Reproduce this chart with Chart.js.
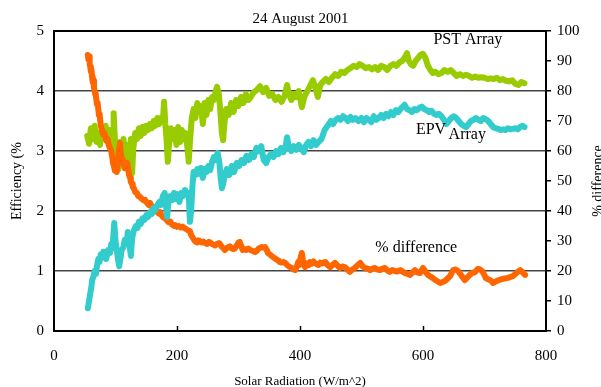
<!DOCTYPE html>
<html>
<head>
<meta charset="utf-8">
<script src="https://cdn.jsdelivr.net/npm/chart.js@4.4.1/dist/chart.umd.min.js"></script>
<style>
  html, body { margin: 0; padding: 0; background: #fff; }
  #wrap { width: 601px; height: 387px; }
</style>
</head>
<body>
<div id="wrap"><canvas id="effChart" width="601" height="387"></canvas></div>
<script>
// Chart text
const chartTitle = "24 August 2001";
const xTitle = "Solar Radiation (W/m^2)";
const yLeftTitle = "Efficiency (%";
const yRightTitle = "% difference";
const seriesNames = ["PST Array", "EPV Array", "% difference"];
const xTicks = [0, 200, 400, 600, 800];

// PST array efficiency (%) against solar radiation (W/m^2)
const pstPoints = [
  [54,3.25],[57,3.12],[60,3.38],[63,3.2],[66,3.42],[69,3.15],[72,3.3],[75,3.1],[78,3.38],[81,3.22],
  [84,3.42],[87,3.15],[90,3.35],[93,3.1],[96,3.3],[97,3.63],[99,3.2],[101,2.72],[103,3.0],[105,2.7],
  [107,3.15],[110,2.8],[113,3.2],[116,2.75],[119,3.1],[122,2.9],[125,3.2],[127,2.63],[129,3.05],[132,3.3],
  [135,3.2],[138,3.38],[141,3.25],[144,3.4],[147,3.3],[150,3.42],[153,3.35],[156,3.45],[159,3.38],[162,3.5],
  [165,3.42],[168,3.55],[171,3.45],[174,3.55],[177,3.5],[179,3.82],[181,3.45],[183,3.2],[185,2.82],[187,3.1],
  [190,3.38],[193,3.2],[196,3.35],[199,3.1],[202,3.4],[205,3.15],[208,3.35],[211,3.2],[214,3.3],[217,3.05],
  [219,2.82],[221,3.15],[224,3.55],[227,3.7],[230,3.55],[233,3.8],[236,3.65],[239,3.75],[242,3.45],[245,3.8],
  [248,3.6],[251,3.85],[254,3.7],[257,3.9],[260,3.85],[263,4.0],[265,4.07],[268,3.95],[271,3.6],[273,3.3],
  [275,3.18],[277,3.45],[280,3.7],[284,3.6],[288,3.8],[292,3.65],[296,3.85],[300,3.75],[304,3.9],[308,3.8],
  [312,3.95],[316,3.85],[320,3.9],[325,3.98],[330,4.02],[335,4.08],[340,3.98],[345,4.05],[350,3.92],[355,3.95],
  [360,3.85],[365,3.9],[370,3.82],[375,3.92],[379,4.1],[382,3.95],[386,3.85],[390,3.95],[394,3.9],[398,4.0],
  [403,3.73],[407,3.9],[412,4.0],[417,4.1],[421,4.18],[425,4.05],[429,3.9],[433,4.1],[437,4.15],[442,4.2],
  [447,4.15],[452,4.22],[457,4.28],[462,4.25],[467,4.32],[472,4.3],[477,4.35],[482,4.38],[487,4.42],[492,4.4],
  [497,4.45],[502,4.42],[507,4.38],[512,4.4],[517,4.36],[522,4.4],[527,4.35],[532,4.42],[537,4.4],[542,4.35],
  [547,4.42],[552,4.45],[557,4.42],[562,4.48],[566,4.5],[570,4.55],[574,4.63],[577,4.5],[580,4.45],[584,4.42],
  [588,4.5],[592,4.55],[596,4.6],[600,4.62],[604,4.55],[608,4.42],[612,4.35],[616,4.3],[620,4.32],[625,4.28],
  [630,4.3],[635,4.35],[640,4.32],[645,4.35],[650,4.3],[655,4.25],[660,4.28],[665,4.25],[670,4.27],[675,4.25],
  [680,4.22],[685,4.24],[690,4.22],[695,4.23],[700,4.22],[705,4.2],[710,4.21],[715,4.2],[720,4.22],[725,4.18],
  [730,4.2],[735,4.17],[740,4.16],[745,4.18],[750,4.12],[755,4.1],[760,4.15],[765,4.13]
];

// EPV array efficiency (%)
const epvPoints = [
  [55,0.38],[57,0.5],[59,0.63],[61,0.75],[62,0.85],[64,0.9],[66,1.0],[68,0.95],[70,1.1],[72,1.2],
  [74,1.15],[76,1.28],[78,1.22],[80,1.32],[83,1.25],[85,1.2],[88,1.35],[91,1.3],[93,1.45],[95,1.38],
  [98,1.8],[100,1.5],[102,1.35],[104,1.2],[106,1.08],[108,1.2],[110,1.35],[113,1.4],[115,1.52],[118,1.45],
  [120,1.65],[122,1.5],[125,1.25],[127,1.55],[130,1.68],[133,1.75],[136,1.72],[138,1.82],[141,1.78],[144,1.88],
  [147,1.85],[150,1.93],[153,1.9],[156,1.98],[159,1.95],[162,2.05],[165,2.02],[168,2.1],[171,2.15],[174,2.1],
  [177,2.25],[180,2.3],[182,2.1],[184,1.9],[186,2.15],[189,2.25],[192,2.18],[195,2.3],[198,2.2],[201,2.28],
  [204,2.15],[207,2.3],[210,2.25],[213,2.35],[216,2.28],[219,2.3],[221,1.82],[223,2.0],[225,2.4],[227,2.65],
  [230,2.6],[233,2.7],[236,2.62],[239,2.72],[242,2.55],[245,2.7],[248,2.65],[251,2.75],[254,2.68],[257,2.82],
  [260,2.9],[263,2.85],[266,2.97],[269,2.8],[271,2.55],[273,2.38],[275,2.45],[278,2.6],[281,2.7],[285,2.6],
  [289,2.75],[293,2.65],[297,2.8],[301,2.75],[305,2.85],[309,2.8],[313,2.92],[317,2.85],[321,2.95],[325,2.9],
  [329,3.05],[333,3.0],[337,3.08],[341,2.85],[345,2.8],[349,2.9],[353,2.95],[357,2.9],[361,3.0],[365,2.95],
  [369,3.05],[373,2.98],[377,3.1],[379,3.23],[382,3.05],[386,3.0],[390,3.08],[394,3.02],[398,3.1],[402,3.05],
  [406,2.98],[410,3.1],[414,3.15],[418,3.08],[422,3.18],[426,3.1],[430,3.15],[435,3.2],[440,3.35],[445,3.42],
  [450,3.5],[454,3.45],[458,3.52],[462,3.55],[466,3.52],[470,3.58],[474,3.55],[478,3.5],[482,3.57],[486,3.52],
  [490,3.55],[495,3.5],[500,3.55],[504,3.48],[508,3.55],[512,3.52],[516,3.48],[520,3.58],[524,3.52],[528,3.55],
  [532,3.6],[536,3.55],[540,3.62],[544,3.58],[548,3.65],[552,3.6],[556,3.68],[560,3.65],[565,3.72],[570,3.77],
  [574,3.7],[578,3.68],[582,3.65],[586,3.7],[590,3.68],[594,3.72],[598,3.74],[602,3.7],[606,3.68],[610,3.65],
  [614,3.67],[618,3.62],[622,3.6],[626,3.62],[630,3.58],[634,3.52],[638,3.45],[642,3.5],[646,3.55],[650,3.58],
  [654,3.55],[658,3.5],[662,3.45],[666,3.42],[670,3.4],[674,3.45],[678,3.5],[682,3.52],[686,3.55],[690,3.52],
  [694,3.5],[698,3.55],[702,3.53],[706,3.5],[710,3.45],[714,3.4],[718,3.38],[722,3.37],[726,3.35],[730,3.36],
  [734,3.35],[738,3.38],[742,3.36],[746,3.37],[750,3.38],[754,3.36],[758,3.4],[762,3.42],[765,3.4]
];

// % difference between the two arrays (right axis)
const diffPoints = [
  [55,92],[56,90.5],[57,91.5],[58,89],[59,88],[60,86.5],[61,87],[62,84.5],[63,83],[64,83.5],
  [65,81],[67,79],[68,78.5],[70,75.5],[71,76],[73,72],[74,72.5],[76,68.5],[78,67],[80,65.5],
  [82,66],[85,63.5],[87,64],[89,62],[91,61],[93,60],[95,57.5],[96,56],[98,54.5],[99,53.5],
  [101,54],[102,53],[104,57],[106,61],[107,62.7],[109,58.5],[111,57],[112,56],[114,55],[115,54.3],
  [117,55.5],[119,56],[121,53.5],[122,52],[124,51],[125,49.7],[127,49],[128,48],[130,47.5],[132,46.3],
  [135,46],[137,45],[140,44.7],[143,44],[146,43.5],[148,43.7],[151,42.8],[154,42],[156,42.7],[159,41.5],
  [162,40.5],[164,41.3],[167,40],[170,39.2],[172,39.7],[175,38.5],[178,37.8],[180,38],[183,37],[186,36.3],
  [189,36.5],[192,35.5],[195,35],[197,35.3],[200,34.7],[203,35],[206,34.5],[209,34.8],[212,34.3],[215,34],
  [218,33.5],[221,33.3],[223,32],[226,31],[229,30],[231,29.7],[233,29.5],[235,30.2],[237,30],[240,29.5],
  [243,29.8],[246,29.3],[249,29],[252,29.7],[254,29.5],[257,29],[260,28.7],[262,28.5],[265,29],[268,29.3],
  [270,29],[273,28],[276,27.5],[278,27],[281,27.7],[284,28],[286,28.2],[289,27.5],[292,27.3],[294,27.5],
  [297,28.5],[300,29.5],[302,29.7],[304,28.5],[307,27],[310,27.3],[313,27],[316,27.5],[319,27],[322,26.8],
  [325,26.5],[327,26.3],[330,26.8],[333,27.5],[335,27.7],[338,28],[340,27.8],[343,28],[346,27],[348,26],
  [351,25.5],[354,25],[357,24.5],[359,24.3],[362,23.8],[365,23.5],[367,23],[370,22.8],[373,23],[376,22.7],
  [379,22],[382,21.5],[384,21.3],[387,21],[390,20.5],[392,20.3],[395,21.5],[397,23],[399,22],[401,24.5],
  [403,26],[405,23],[408,21.3],[411,22.5],[414,22],[416,23],[419,22.5],[422,23.2],[424,22.7],[427,22.3],
  [430,22],[433,22.8],[436,22.5],[441,23],[445,22],[449,21.3],[453,22],[457,22.7],[461,21.8],[465,21],
  [469,21.5],[473,21.3],[477,20.5],[481,19.7],[485,20.5],[489,21],[493,21.8],[498,22.7],[502,21.5],[506,21],
  [510,20.8],[514,20.3],[518,20.8],[522,21],[526,20.5],[530,20.3],[534,20.8],[538,21],[542,20.2],[546,19.7],
  [550,20.3],[554,20],[558,19.8],[563,20.3],[567,19.8],[571,19.3],[575,19],[579,18.7],[583,19.5],[587,20.3],
  [591,19.5],[595,19.3],[600,21],[604,19.8],[608,18.7],[611,18.3],[615,17.8],[620,17],[624,16.5],[628,16],
  [632,16.3],[636,16.7],[640,17.5],[644,18.3],[647,19.5],[649,20.3],[653,20.5],[657,20],[660,19.2],[663,18.3],
  [666,17.5],[668,17],[672,17.8],[676,18.7],[680,19.3],[685,19.7],[689,20.7],[693,20.5],[696,20],[699,19],
  [702,17.7],[706,17.2],[709,17],[712,16.5],[714,16],[717,16.3],[720,16.7],[724,17],[728,17.3],[733,17.5],
  [738,17.7],[742,18],[746,18.3],[750,19],[754,19.7],[758,20.3],[761,19.8],[763,19.3],[766,18.7]
];

// Text labels placed next to the curves, in data units
const curveLabels = [
  { text: "PST Array", x: 673, y: 4.85, axis: "y" },
  { text: "EPV", x: 613, y: 3.35, axis: "y" },
  { text: "Array", x: 672, y: 3.27, axis: "y" },
  { text: "% difference", x: 589, y: 27.7, axis: "y2" }
];

const serif = "'Liberation Serif', 'DejaVu Serif', serif";

function toXY(points) {
  return points.map((p) => ({ x: p[0], y: p[1] }));
}

// Draws the curve labels, the inward x ticks and the right axis title
const textPlugin = {
  id: "chartText",
  afterDraw(chart) {
    const ctx = chart.ctx;
    const area = chart.chartArea;
    const xScale = chart.scales.x;
    ctx.save();

    ctx.strokeStyle = "#000";
    ctx.lineWidth = 1.5;
    xTicks.slice(1, -1).forEach((v) => {
      const px = Math.round(xScale.getPixelForValue(v)) + 0.5;
      ctx.beginPath();
      ctx.moveTo(px, area.bottom);
      ctx.lineTo(px, area.bottom - 5);
      ctx.stroke();
    });

    ctx.fillStyle = "#000";
    ctx.textAlign = "center";
    ctx.textBaseline = "middle";
    ctx.font = "16px " + serif;
    curveLabels.forEach((l) => {
      const yScale = chart.scales[l.axis];
      ctx.fillText(l.text, xScale.getPixelForValue(l.x), yScale.getPixelForValue(l.y));
    });

    // right axis title reads upward and runs off the page edge
    ctx.font = "14px " + serif;
    ctx.translate(chart.width - 3, (area.top + area.bottom) / 2);
    ctx.rotate(-Math.PI / 2);
    ctx.fillText(yRightTitle, 0, 0);
    ctx.restore();
  }
};

const lineStyle = {
  borderWidth: 6,
  pointRadius: 0,
  tension: 0,
  fill: false,
  borderJoinStyle: "round",
  borderCapStyle: "round"
};

new Chart(document.getElementById("effChart").getContext("2d"), {
  type: "line",
  data: {
    datasets: [
      { ...lineStyle, label: seriesNames[0], data: toXY(pstPoints), borderColor: "#99cc00", yAxisID: "y", order: 3 },
      { ...lineStyle, label: seriesNames[1], data: toXY(epvPoints), borderColor: "#33cccc", yAxisID: "y", order: 1 },
      { ...lineStyle, label: seriesNames[2], data: toXY(diffPoints), borderColor: "#ff6600", yAxisID: "y2", order: 2 }
    ]
  },
  options: {
    responsive: false,
    animation: false,
    devicePixelRatio: 1,
    layout: { padding: 0 },
    plugins: {
      legend: { display: false },
      tooltip: { enabled: false },
      title: {
        display: true,
        text: chartTitle,
        color: "#000",
        font: { family: serif, size: 15, weight: "normal" },
        padding: { top: 10, bottom: 3 }
      }
    },
    scales: {
      x: {
        type: "linear",
        min: 0,
        max: 800,
        ticks: { stepSize: 200, color: "#000", font: { family: serif, size: 15 }, padding: 16, maxRotation: 0 },
        grid: { drawOnChartArea: false, drawTicks: false },
        border: { color: "#000", width: 2 },
        title: {
          display: true,
          text: xTitle,
          color: "#000",
          font: { family: serif, size: 13 },
          padding: { top: 0, bottom: -2 }
        },
        afterFit: (s) => { s.height = 56; }
      },
      y: {
        position: "left",
        min: 0,
        max: 5,
        ticks: { stepSize: 1, color: "#000", font: { family: serif, size: 15 }, padding: 10 },
        grid: {
          drawTicks: false,
          color: (c) => (c.tick && c.tick.value === 5 ? "#000" : "#444"),
          lineWidth: (c) => (c.tick && c.tick.value === 5 ? 2 : 1.5)
        },
        border: { color: "#000", width: 2 },
        title: {
          display: true,
          text: yLeftTitle,
          color: "#000",
          font: { family: serif, size: 14 },
          padding: { top: 9, bottom: 0 }
        },
        afterFit: (s) => { s.width = 54; }
      },
      y2: {
        position: "right",
        min: 0,
        max: 100,
        ticks: { stepSize: 10, color: "#000", font: { family: serif, size: 15 }, padding: 6 },
        grid: { drawOnChartArea: false, drawTicks: true, tickLength: 5, color: "#000", lineWidth: 1.5 },
        border: { color: "#000", width: 2 },
        afterFit: (s) => { s.width = 55; }
      }
    }
  },
  plugins: [textPlugin]
});
</script>
</body>
</html>
